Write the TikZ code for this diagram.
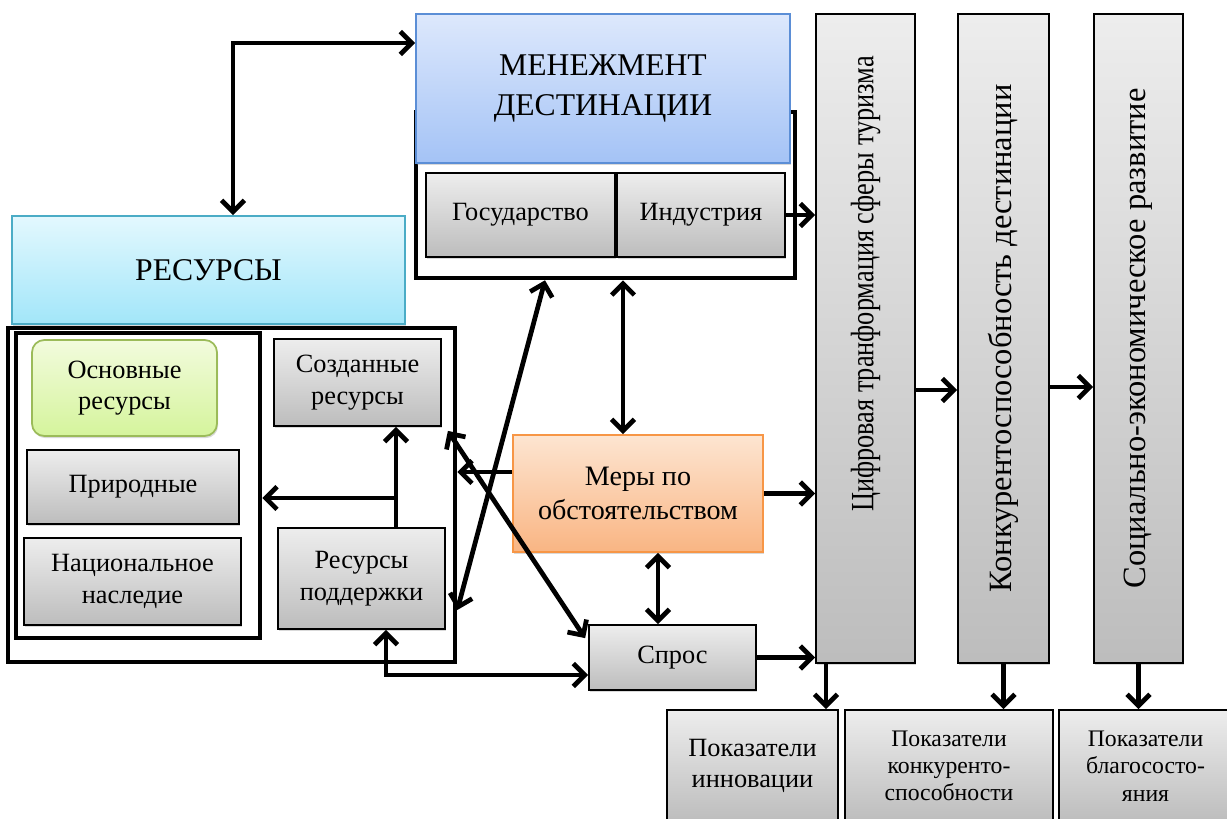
\documentclass[tikz,border=0pt]{standalone}
\usepackage{fontspec}
\setmainfont{Liberation Serif}
\usetikzlibrary{fit,arrows.meta,shadows}
\definecolor{blueT}{HTML}{DDE8FC}
\definecolor{blueB}{HTML}{A4C3F6}
\definecolor{blueD}{HTML}{5B8ED6}
\definecolor{cyanT}{HTML}{E3F8FE}
\definecolor{cyanB}{HTML}{A2E6F9}
\definecolor{cyanD}{HTML}{4BACC6}
\definecolor{greenT}{HTML}{F2FBDD}
\definecolor{greenB}{HTML}{D5F49C}
\definecolor{greenD}{HTML}{9BBB59}
\definecolor{orangeT}{HTML}{FDE5D1}
\definecolor{orangeB}{HTML}{F9B583}
\definecolor{orangeD}{HTML}{F79646}
\tikzset{rect/.style 2 args={minimum width=#1*0.02cm, minimum height=#2*0.02cm}}
\tikzstyle{box} = [draw=black, line width=1pt, inner sep=0pt, align=center, top color=black!7, bottom color=black!26, drop shadow={opacity=0.3,shadow xshift=0.6pt,shadow yshift=-1.2pt}, font={\fontsize{15}{18}\selectfont}]
\tikzstyle{title} = [box, font={\fontsize{18}{22.5}\selectfont}]
\tikzstyle{mgmt} = [title, draw=blueD, top color=blueT, bottom color=blueB]
\tikzstyle{res} = [title, draw=cyanD, top color=cyanT, bottom color=cyanB]
\tikzstyle{basic} = [box, draw=greenD, top color=greenT, bottom color=greenB, rounded corners=7pt]
\tikzstyle{measure} = [box, draw=orangeD, top color=orangeT, bottom color=orangeB, font={\fontsize{16}{19}\selectfont}]
\tikzstyle{column} = [box, font={\fontsize{18.5}{22}\selectfont}]
\tikzstyle{small} = [font={\fontsize{13.5}{15.5}\selectfont}]
\tikzstyle{frame} = [draw=black, line width=2.6pt, inner sep=0pt]
\tikzstyle{link} = [line width=2.7pt]

\begin{document}
\begin{tikzpicture}[x=0.02cm, y=-0.02cm, >={Straight Barb[length=6.5pt,width=13pt]}]
        \useasboundingbox (0,0) rectangle (1227,818);
        % frames
        \node[frame, fit={(416,112)(795,278)}](mfr){};
        \node[frame, fit={(8,328)(455,662)}](ofr){};
        \node[frame, fit={(16,333)(260,638)}](ifr){};
        % management
        \node[mgmt, rect={374}{149}](men) at (603,88.5){МЕНЕЖМЕНТ\\ДЕСТИНАЦИИ};
        \node[box, rect={189}{84}](gos) at (520.5,215){Государство};
        \node[box, rect={168}{84}](ind) at (701,215){Индустрия};
        % resources
        \node[res, rect={393}{108}](res) at (208.5,270){РЕСУРСЫ};
        \node[basic, rect={185}{96}](osn) at (124.5,388){Основные\\ресурсы};
        \node[box, rect={212}{74}](prir) at (133,487){Природные};
        \node[box, rect={217}{87}](nac) at (132.5,581.5){Национальное\\наследие};
        \node[box, rect={167}{87}](sozd) at (357.5,382.5){Созданные\\ресурсы};
        \node[box, rect={167}{101}](podd) at (361.5,578.5){Ресурсы\\поддержки};
        % middle
        \node[measure, rect={250}{117}](mery) at (638,493.5){Меры по\\обстоятельством};
        \node[box, rect={167}{65}](spros) at (672.5,657.5){Спрос};
        % columns
        \node[column, rect={99}{649}](cif) at (865.5,338.5){\rotatebox{90}{\hspace{62pt}\scalebox{0.81}[1]{Цифровая транформация сферы туризма}}};
        \node[column, rect={91}{649}](konk) at (1003.5,338.5){\rotatebox{90}{Конкурентоспособность дестинации}};
        \node[column, rect={89}{649}](soc) at (1138.5,338.5){\rotatebox{90}{Социально-экономическое развитие}};
        % indicators
        \node[box, rect={171}{112}](pin) at (752.5,766){Показатели\\инновации};
        \node[box, small, rect={208}{112}](pk) at (949,766){Показатели\\конкуренто-\\способности};
        \node[box, small, rect={173}{112}](pb) at (1145.5,766){Показатели\\благососто-\\яния};
        % links
        \coordinate (fork) at (396,498);
        \draw[link,<->](res.north -| 233,0) |- (men.west |- 0,43);
        \draw[link,->](ind.east) -- (ind.east -| cif.west);
        \draw[link,<->](mery.north -| 623,0) -- (mfr.south -| 623,0);
        \draw[link,<->](mfr.south -| 545,0) -- (ofr.east |- 0,610);
        \draw[link,<->]([shift={(6,4)}]sozd.south east) -- ([shift={(-3,14)}]spros.north west);
        \draw[link,->](mery.west |- 0,472) -- (ofr.east |- 0,472);
        \draw[link,->](mery.east) -- (mery.east -| cif.west);
        \draw[link,<->](mery.south -| 658,0) -- (spros.north -| 658,0);
        \draw[link,->](spros.east) -- (spros.east -| cif.west);
        \draw[link,->](podd.north -| fork) -- (sozd.south -| fork);
        \draw[link,->](fork) -- (ifr.east |- fork);
        \draw[link,<->](podd.south -| 386,0) |- (spros.west |- 0,675);
        \draw[link,->](cif.east |- 0,390) -- (konk.west |- 0,390);
        \draw[link,->](konk.east |- 0,387) -- (soc.west |- 0,387);
        \draw[link,->](cif.south -| 826,0) -- (pin.north -| 826,0);
        \draw[link,->](konk.south) -- (pk.north -| konk.south);
        \draw[link,->](soc.south) -- (pb.north -| soc.south);
      \end{tikzpicture}
\end{document}
